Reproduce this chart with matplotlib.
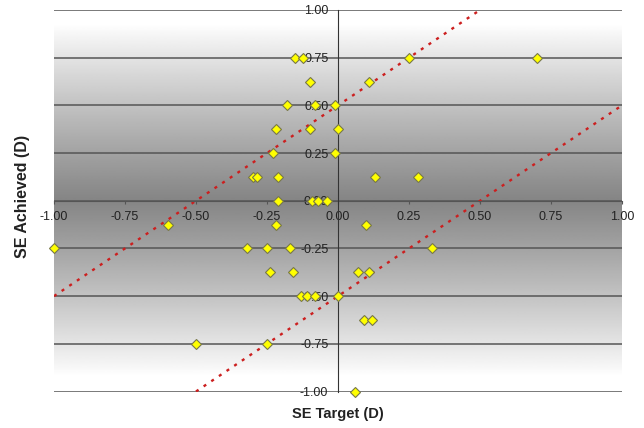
"""SE target vs SE achieved scatter, +/-0.50 D band."""

import numpy as np
import matplotlib
matplotlib.use("Agg")
from matplotlib import pyplot as plt

plt.rcParams['font.family'] = ['Liberation Sans', 'DejaVu Sans']

# data (dioptres)
se_target = [-0.15, -0.125, 0.25, 0.70,
             -0.10, 0.11,
             -0.18, -0.08, -0.01,
             -0.22, -0.10, 0.0,
             -0.23, -0.01,
             -0.30, -0.285, -0.21, 0.13, 0.28,
             -0.21, -0.09, -0.07, -0.04,
             -0.60, -0.22, 0.10,
             -1.00, -0.32, -0.25, -0.17, 0.33,
             -0.24, -0.16, 0.07, 0.11,
             -0.13, -0.11, -0.08, 0.0,
             0.09, 0.12,
             -0.50, -0.25,
             0.06]
se_achieved = [0.75, 0.75, 0.75, 0.75,
               0.625, 0.625,
               0.5, 0.5, 0.5,
               0.375, 0.375, 0.375,
               0.25, 0.25,
               0.125, 0.125, 0.125, 0.125, 0.125,
               0.0, 0.0, 0.0, 0.0,
               -0.125, -0.125, -0.125,
               -0.25, -0.25, -0.25, -0.25, -0.25,
               -0.375, -0.375, -0.375, -0.375,
               -0.5, -0.5, -0.5, -0.5,
               -0.625, -0.625,
               -0.75, -0.75,
               -1.0]
band_offsets = [0.5, -0.5]
ticks = [-1.0, -0.75, -0.5, -0.25, 0.0, 0.25, 0.5, 0.75, 1.0]

fig = plt.figure(figsize=(6.44, 4.28), dpi=100)
ax = fig.add_axes([54 / 644, 1 - 391.5 / 428, 568 / 644, 381.5 / 428])

# background gradient: white at top/bottom, grey in the middle
yy = np.linspace(-1, 1, 400)
shade = 1 - 0.48 * np.clip((0.92 - np.abs(yy)) / 0.92, 0, 1) ** 0.9
ax.imshow(shade[:, None], extent=[-1, 1, -1, 1], origin='lower', aspect='auto',
          cmap='gray', vmin=0, vmax=1, zorder=0)

# horizontal grid
for t in ticks:
    ax.axhline(t, color='#555555', lw=1.1, zorder=1)

# +/- 0.5 D reference lines
x_line = np.array([-1.0, 1.0])
for off in band_offsets:
    y_clip = np.clip(x_line + off, -1, 1)
    x_clip = y_clip - off
    ax.plot(x_clip, y_clip, color='#cc1f1f', lw=1.7, ls=(0, (1.3, 2.6)), zorder=2)

ax.plot(se_target, se_achieved, ls='none', marker='D', markersize=5.6,
        markerfacecolor='#ffff00', markeredgecolor='#77774a', markeredgewidth=0.8,
        zorder=4, clip_on=False)

ax.set_xlim(-1, 1)
ax.set_ylim(-1, 1)
ax.set_xticks(ticks)
ax.set_yticks(ticks)
ax.set_xticklabels([f"{t:.2f}" for t in ticks])
ax.set_yticklabels([f"{t:.2f}" for t in ticks])

for side in ('top', 'right'):
    ax.spines[side].set_visible(False)
ax.spines['left'].set_position(('data', 0))
ax.spines['bottom'].set_position(('data', 0))
ax.spines['left'].set_color('#333333')
ax.spines['bottom'].set_color('#555555')
ax.spines['left'].set_zorder(3)

ax.tick_params(axis='x', direction='out', length=2.5, width=0.8, pad=5,
               labelsize=9, colors='#555555', labelcolor='#222222')
ax.tick_params(axis='y', length=0, pad=7, labelsize=9, labelcolor='#222222')
for lab in ax.get_yticklabels() + ax.get_xticklabels():
    lab.set_zorder(3)

fig.text(338 / 644, 1 - 414 / 428, "SE Target (D)", ha='center', va='center',
         fontsize=10.5, fontweight='bold', color='#222222')
fig.text(23 / 644, 1 - 196 / 428, "SE Achieved (D)", ha='center', va='center',
         rotation=90, fontsize=11.5, fontweight='bold', color='#222222')

fig.savefig("out.png", dpi=100)
